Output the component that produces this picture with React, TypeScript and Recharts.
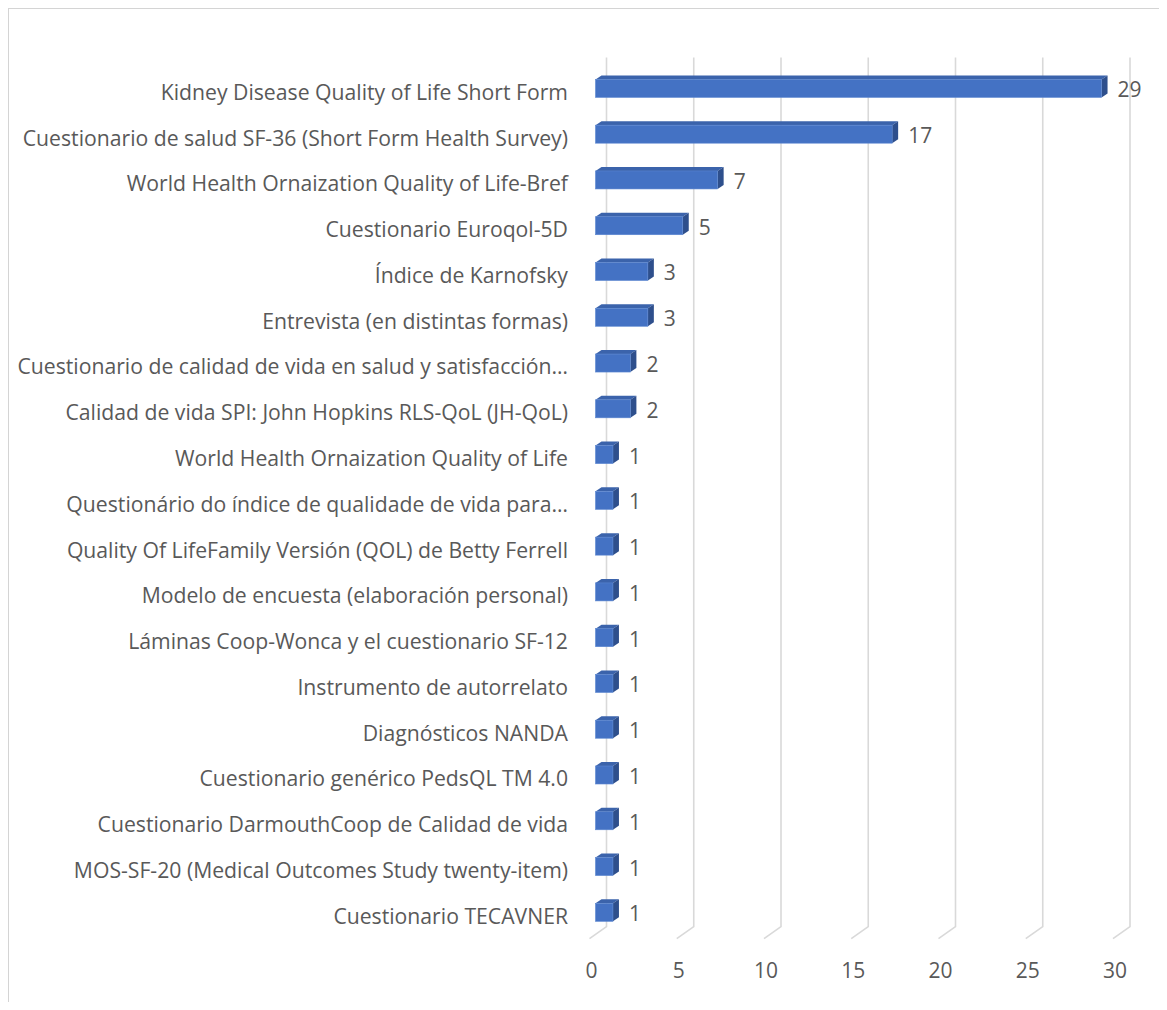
import React from 'react';
import { BarChart, Bar, XAxis, YAxis, CartesianGrid, LabelList } from 'recharts';

const categories: string[] = [
  'Kidney Disease Quality of Life Short Form',
  'Cuestionario de salud SF-36 (Short Form Health Survey)',
  'World Health Ornaization Quality of Life-Bref',
  'Cuestionario Euroqol-5D',
  'Índice de Karnofsky',
  'Entrevista (en distintas formas)',
  'Cuestionario de calidad de vida en salud y satisfacción…',
  'Calidad de vida SPI: John Hopkins RLS-QoL (JH-QoL)',
  'World Health Ornaization Quality of Life',
  'Questionário do índice de qualidade de vida para…',
  'Quality Of LifeFamily Versión (QOL) de Betty Ferrell',
  'Modelo de encuesta (elaboración personal)',
  'Láminas Coop-Wonca y el cuestionario SF-12',
  'Instrumento de autorrelato',
  'Diagnósticos NANDA',
  'Cuestionario genérico PedsQL TM 4.0',
  'Cuestionario DarmouthCoop de Calidad de vida',
  'MOS-SF-20 (Medical Outcomes Study twenty-item)',
  'Cuestionario TECAVNER',
];

const counts: number[] = [29, 17, 7, 5, 3, 3, 2, 2, 1, 1, 1, 1, 1, 1, 1, 1, 1, 1, 1];

const xTicks: number[] = [0, 5, 10, 15, 20, 25, 30];

const data = categories.map((name, i) => ({ name, value: counts[i] }));

const FONT = '"Open Sans", sans-serif';
const TEXT = '#595959';
const GRID = '#d9d9d9';
const DX = 6;
const DY = 4;

const Bar3D = (props: any) => {
  const { x, y, width, height } = props;
  if (width == null || height == null) return null;
  const top = `${x},${y} ${x + DX},${y - DY} ${x + width + DX},${y - DY} ${x + width},${y}`;
  const side = `${x + width},${y} ${x + width + DX},${y - DY} ${x + width + DX},${y + height - DY} ${x + width},${y + height}`;
  return (
    <g>
      <polygon points={top} fill="#3B63AB" />
      <polygon points={side} fill="#2E4F8C" />
      <rect x={x} y={y} width={width} height={height} fill="#4472C4" stroke="#5B86D0" strokeWidth={0.6} />
    </g>
  );
};

const gridLine = (p: any) => {
  const { x1, y1, y2 } = p;
  const d = `M${x1 + 11},${y1 - 8} L${x1 + 11},${y2 - 8.5} L${x1 - 6},${y2 + 3.5}`;
  return <path key={`g-${p.index}-${x1}`} d={d} stroke={GRID} strokeWidth={1.6} fill="none" />;
};

const YTick = (p: any) => {
  const { x, y, payload } = p;
  return (
    <text x={x - 27.5} y={y + 11.5} textAnchor="end" fill={TEXT} fontFamily={FONT} fontSize={21.2}>
      {payload.value}
    </text>
  );
};

const XTick = (p: any) => {
  const { x, y, payload } = p;
  return (
    <text x={x - 4} y={y + 42.5} textAnchor="middle" fill={TEXT} fontFamily={FONT} fontSize={21}>
      {payload.value}
    </text>
  );
};

const ValueLabel = (p: any) => {
  const { x, y, width, height, value } = p;
  return (
    <text x={x + width + 16} y={y + height / 2 + 9} textAnchor="start" fill={TEXT} fontFamily={FONT} fontSize={21}>
      {value}
    </text>
  );
};

export default function App() {
  return (
    <div
      style={{
        width: 1152,
        height: 1002,
        marginLeft: -1,
        marginBottom: -8,
        borderLeft: '2px solid #d4d4d4',
        borderTop: '1px solid #d4d4d4',
        boxSizing: 'border-box',
        overflow: 'hidden',
      }}
    >
      <div style={{ marginLeft: -1, marginTop: -1 }}>
        <BarChart
          width={1151}
          height={994}
          data={data}
          layout="vertical"
          margin={{ top: 57.4, right: 40, bottom: 6.9, left: 0 }}
          barCategoryGap={0}
        >
          <CartesianGrid horizontal={false} vertical={gridLine} />
          <XAxis
            type="number"
            domain={[0, 30]}
            ticks={xTicks}
            axisLine={false}
            tickLine={false}
            tickSize={0}
            tickMargin={0}
            height={60}
            tick={<XTick />}
            interval={0}
          />
          <YAxis
            type="category"
            dataKey="name"
            width={587.5}
            axisLine={false}
            tickLine={false}
            tickSize={0}
            tickMargin={0}
            tick={<YTick />}
            interval={0}
          />
          <Bar dataKey="value" barSize={18} shape={<Bar3D />} isAnimationActive={false}>
            <LabelList dataKey="value" content={<ValueLabel />} />
          </Bar>
        </BarChart>
      </div>
    </div>
  );
}
